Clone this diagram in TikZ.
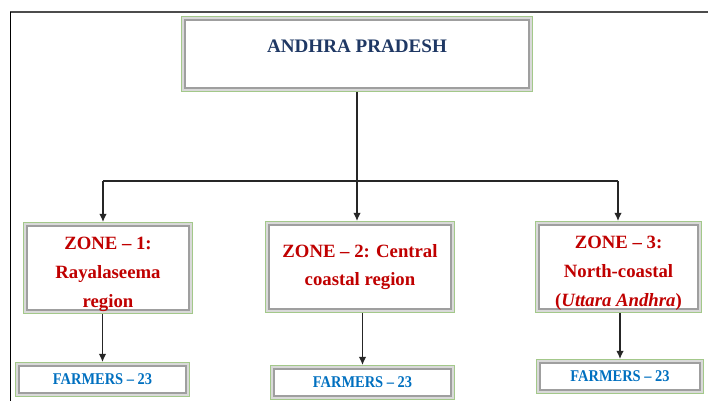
\documentclass[tikz,border=0pt]{standalone}
\usepackage{fontspec}
\setmainfont{Liberation Serif}
\usetikzlibrary{arrows.meta}
\definecolor{navyblue}{HTML}{1F3864}
\definecolor{zonered}{HTML}{C00000}
\definecolor{farmblue}{HTML}{0070C0}
\definecolor{framegreen}{HTML}{A3C88A}
\newcommand{\squeezed}[1]{\scalebox{0.88}[1]{#1}}

\begin{document}
\begin{tikzpicture}[x=0.03cm, y=-0.03cm,
  box/.style={draw=gray!75, line width=1.8pt, fill=white, align=center,
    outer sep=3.4pt, inner sep=0pt,
    preaction={draw=framegreen, line width=6.8pt},
    preaction={draw=gray!30, line width=5.1pt}},
  topbox/.style={box, text=navyblue, font=\bfseries\fontsize{16.3}{18}\selectfont},
  zonebox/.style={box, minimum height=2.52cm, text=zonered,
    font=\bfseries\fontsize{16}{24.5}\selectfont},
  farmbox/.style={box, minimum height=0.81cm, text=farmblue,
    font=\bfseries\fontsize{14}{16}\selectfont},
  link/.style={line width=1.2pt, black!85},
  arr/.style={link, -{Latex[length=7pt, width=6.5pt]}}
]
\useasboundingbox (0,0) rectangle (708,401);

% Frame
\draw [line width=1.2pt, black!70] (10,12) -- (708,12);
\draw [line width=0.8pt] (10,12) -- (10,401);

%% BOXES
% State
\node [topbox, minimum width=10.32cm, minimum height=2.04cm, text depth=14pt] (top) at (357,54) {ANDHRA PRADESH};

% Zones
\node [zonebox, minimum width=4.86cm, text height=67pt, text depth=0pt] (z1) at (108,268) {ZONE – 1:\\Rayalaseema\\region};
\node [zonebox, minimum width=5.46cm] (z2) at (360,267) {ZONE – 2: Central\\coastal region};
\node [zonebox, minimum width=4.77cm, text height=67pt, text depth=0pt] (z3) at (618.5,267) {ZONE – 3:\\North-coastal\\(\textit{Uttara Andhra})};

% Farmers
\node [farmbox, minimum width=5.01cm] (f1) at (102.5,379.5) {\squeezed{FARMERS – 23}};
\node [farmbox, minimum width=5.31cm] (f2) at (362.5,382.5) {\squeezed{FARMERS – 23}};
\node [farmbox, minimum width=4.8cm] (f3) at (620,376.5) {\squeezed{FARMERS – 23}};

%% CONNECTORS
% Split
\coordinate (b1) at (103,181);
\coordinate (b2) at (357,181);
\coordinate (b3) at (618,181);
\draw [link] (top.south -| b2) -- (b2);
\draw [link] (b1) -- (b3);

% To zones
\draw [arr] (b1) -- (b1 |- z1.north);
\draw [arr] (b2) -- (b2 |- z2.north);
\draw [arr] (b3) -- (b3 |- z3.north);

% To farmers
\draw [arr] (z1.south -| f1.north) -- (f1.north);
\draw [arr] (z2.south -| f2.north) -- (f2.north);
\draw [arr] (z3.south -| f3.north) -- (f3.north);
\end{tikzpicture}
\end{document}
